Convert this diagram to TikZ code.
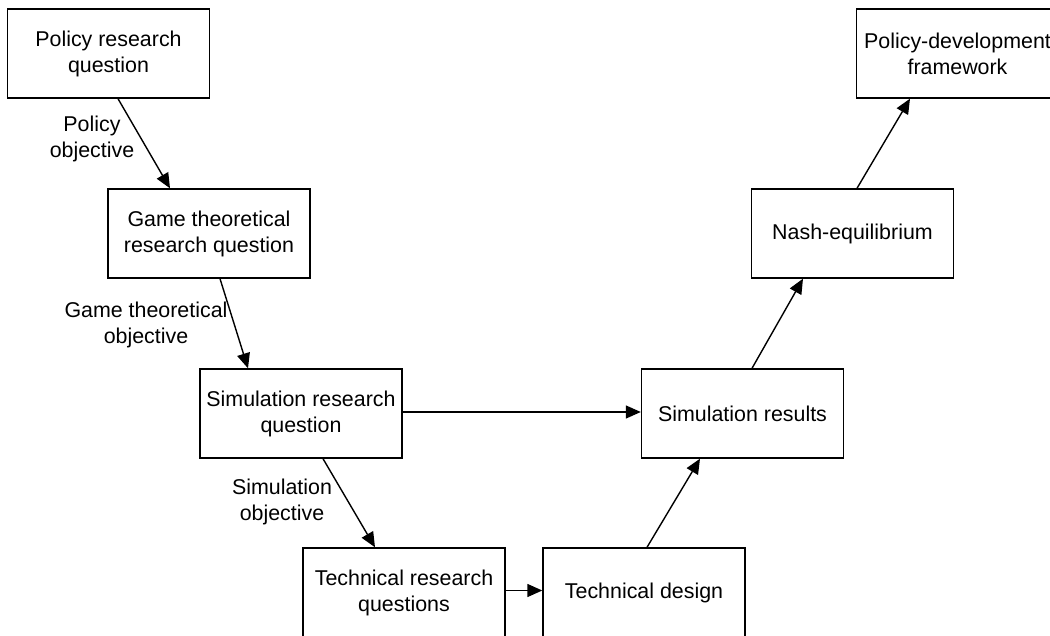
\documentclass[tikz,border=0pt]{standalone}
\usepackage{fontspec}
\setmainfont{Liberation Sans}
\usetikzlibrary{arrows.meta}
\begin{document}
\begin{tikzpicture}[x=1pt,y=-1pt,
  box/.style={draw,line width=1.4pt,minimum width=202pt,minimum height=89pt,
    align=center,inner sep=0pt,font=\fontsize{21.4}{26}\selectfont},
  lbl/.style={align=center,inner sep=0pt,font=\fontsize{21.4}{26}\selectfont},
  flow/.style={line width=1.4pt,-{Triangle[length=15pt,width=13pt]}}]
\path[use as bounding box,fill=white] (0,0) rectangle (1050,636);
\clip (0,0) rectangle (1050,636);

% boxes
\node[box] (prq) at (108.5,53.5) {Policy research\\question};
\node[box] (gtq) at (209,233.5) {Game theoretical\\research question};
\node[box] (srq) at (301,413.5) {Simulation research\\question};
\node[box] (trq) at (404,592.5) {Technical research\\questions};
\node[box] (td)  at (644,592.5) {Technical design};
\node[box] (sr)  at (742.5,413.5) {Simulation results};
\node[box] (ne)  at (852.5,233.5) {Nash-equilibrium};
\node[box] (pdf) at (957.5,53.5) {Policy-development\\framework};

% connector labels
\node[lbl] (lpo) at (92,139) {Policy\\objective};
\node[lbl] (lgo) at (146,324.5) {Game theoretical\\objective};
\node[lbl] (lso) at (282,502) {Simulation\\objective};

% connectors
\draw[flow] ([xshift=9.5pt]prq.south) -- ([xshift=-39pt]gtq.north);
\draw[flow] ([xshift=11pt]gtq.south) -- ([xshift=-53pt]srq.north);
\draw[flow] ([xshift=22pt]srq.south) -- ([xshift=-29pt]trq.north);
\draw[flow] ([yshift=2pt]trq.east) -- ([yshift=2pt]td.west);
\draw[flow] ([yshift=1.5pt]srq.east) -- ([yshift=1.5pt]sr.west);
\draw[flow] ([xshift=3pt]td.north) -- ([xshift=-42.5pt]sr.south);
\draw[flow] ([xshift=9.5pt]sr.north) -- ([xshift=-49.5pt]ne.south);
\draw[flow] ([xshift=4.5pt]ne.north) -- ([xshift=-47.5pt]pdf.south);
\end{tikzpicture}
\end{document}
